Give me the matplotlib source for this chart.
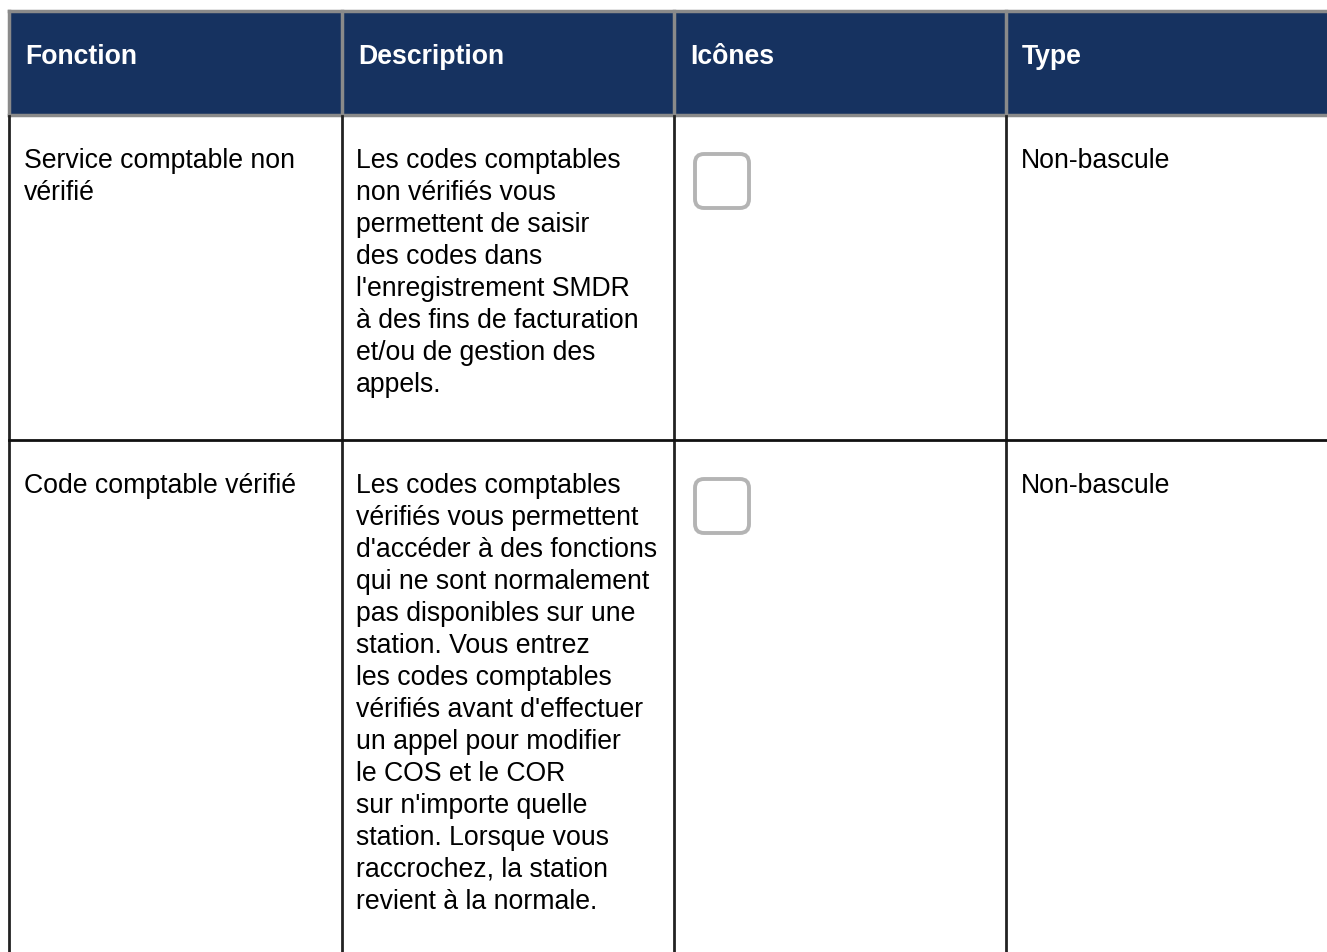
import matplotlib
matplotlib.use("Agg")
import matplotlib.pyplot as plt
from matplotlib.patches import Rectangle, FancyBboxPatch

plt.rcParams['font.family'] = ['Liberation Sans', 'DejaVu Sans']

# table content
headers = ["Fonction", "Description", "Icônes", "Type"]
fonctions = [["Service comptable non", "vérifié"],
             ["Code comptable vérifié"]]
descriptions = [
    ["Les codes comptables", "non vérifiés vous", "permettent de saisir",
     "des codes dans", "l'enregistrement SMDR", "à des fins de facturation",
     "et/ou de gestion des", "appels."],
    ["Les codes comptables", "vérifiés vous permettent", "d'accéder à des fonctions",
     "qui ne sont normalement", "pas disponibles sur une", "station. Vous entrez",
     "les codes comptables", "vérifiés avant d'effectuer", "un appel pour modifier",
     "le COS et le COR", "sur n'importe quelle", "station. Lorsque vous",
     "raccrochez, la station", "revient à la normale."],
]
types = ["Non-bascule", "Non-bascule"]

W, H = 1327, 953
col_x = [9, 342, 674, 1006, 1327]
head_top, head_bot = 12, 116
row_tops = [116, 441]
line_h = 32
header_col = "#163260"
fs = 19.2

fig = plt.figure(figsize=(W / 100, H / 100), dpi=100)
ax = fig.add_axes([0, 0, 1, 1])
ax.set_xlim(0, W)
ax.set_ylim(H, 0)
ax.axis('off')

# header band
ax.add_patch(Rectangle((col_x[0], head_top), W - col_x[0], head_bot - head_top,
                       facecolor=header_col, edgecolor="none"))
ax.plot([col_x[0], W], [head_top, head_top], color="#8a8a8a", lw=2.5)
ax.plot([col_x[0], W], [head_bot, head_bot], color="#8a8a8a", lw=2.5)
for x in col_x[:4]:
    ax.plot([x, x], [head_top, head_bot], color="#8a8a8a", lw=2.5)

for x, h in zip(col_x, headers):
    ax.text(x + 16, 57, h, color="white", fontsize=fs, fontweight="bold",
            va="center", ha="left")

# body grid
for x in col_x[:4]:
    ax.plot([x, x], [head_bot + 1, H], color="#222222", lw=2)
ax.plot([col_x[0], W], [row_tops[1], row_tops[1]], color="#111111", lw=2)

for r, top in enumerate(row_tops):
    y0 = top + 45
    for i, line in enumerate(fonctions[r]):
        ax.text(col_x[0] + 15, y0 + i * line_h, line, fontsize=fs,
                va="center", ha="left", color="black")
    for i, line in enumerate(descriptions[r]):
        ax.text(col_x[1] + 14, y0 + i * line_h, line, fontsize=fs,
                va="center", ha="left", color="black")
    ax.text(col_x[3] + 15, y0, types[r], fontsize=fs,
            va="center", ha="left", color="black")
    # icon placeholder
    ax.add_patch(FancyBboxPatch((695, top + 39), 54, 54,
                                boxstyle="round,pad=0,rounding_size=9",
                                facecolor="white", edgecolor="#b4b4b4", lw=2.8))

fig.savefig("out.png", dpi=100)
